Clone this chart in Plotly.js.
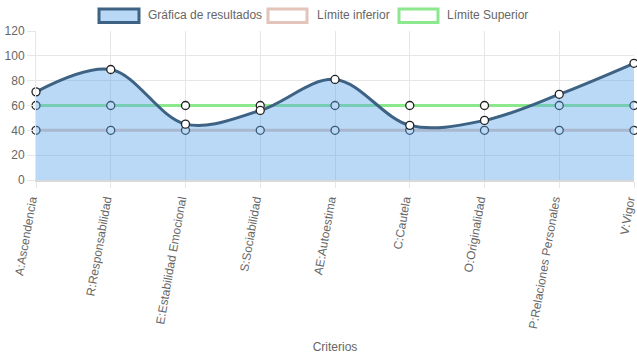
<!DOCTYPE html>
<html>
<head>
<meta charset="utf-8">
<script src="https://cdn.plot.ly/plotly-3.0.1.min.js"></script>
<style>html,body{margin:0;padding:0;background:#fff;}#chart{width:637px;height:359px;}</style>
</head>
<body>
<div id="chart"></div>
<script>
const categories = ["A:Ascendencia","R:Responsabilidad","E:Estabilidad Emocional","S:Sociabilidad","AE:Autoestima","C:Cautela","O:Originalidad","P:Relaciones Personales","V:Vigor"];
const resultados = [71, 89, 45, 56, 81, 44, 48, 69, 94];
const limiteInferior = [40, 40, 40, 40, 40, 40, 40, 40, 40];
const limiteSuperior = [60, 60, 60, 60, 60, 60, 60, 60, 60];
const seriesNames = ["Gráfica de resultados", "Límite inferior", "Límite Superior"];
const yTicks = [0, 20, 40, 60, 80, 100, 120];
const xTitle = "Criterios";

const mk = {size: 8, color: '#ffffff', line: {color: '#222222', width: 1.3}};
const traces = [
  {x: categories, y: limiteInferior, name: seriesNames[1], type: 'scatter', mode: 'lines+markers',
   line: {color: 'rgb(226,196,186)', width: 3}, marker: mk, cliponaxis: false, showlegend: false},
  {x: categories, y: limiteSuperior, name: seriesNames[2], type: 'scatter', mode: 'lines+markers',
   line: {color: 'rgb(140,232,140)', width: 3}, marker: mk, cliponaxis: false, showlegend: false},
  {x: categories, y: resultados, name: seriesNames[0], type: 'scatter', mode: 'lines+markers',
   fill: 'tozeroy', fillcolor: 'rgba(90,165,235,0.42)',
   line: {color: 'rgb(62,98,132)', width: 3, shape: 'spline', smoothing: 1},
   marker: mk, cliponaxis: false, showlegend: false}
];

const font = {family: '"Liberation Sans", Arial, Helvetica, sans-serif', size: 12, color: '#666666'};
const legendItems = [
  {x0: 99, x1: 139, tx: 146, text: seriesNames[0], line: 'rgb(62,98,132)', fill: 'rgb(184,216,246)'},
  {x0: 268, x1: 307, tx: 315, text: seriesNames[1], line: 'rgb(226,196,186)', fill: 'rgba(0,0,0,0)'},
  {x0: 399, x1: 438, tx: 445, text: seriesNames[2], line: 'rgb(140,232,140)', fill: 'rgba(0,0,0,0)'}
];
const W = 637, H = 359;
const PL = 36, PR = 634, PT = 31, PB = 180;
const px = v => (v - PL) / (PR - PL);
const py = v => (PB - v) / (PB - PT);
const shapes = legendItems.map(it => ({type: 'rect', xref: 'paper', yref: 'paper',
  x0: px(it.x0), x1: px(it.x1), y0: py(22.5), y1: py(9),
  line: {color: it.line, width: 3}, fillcolor: it.fill}));
const annotations = legendItems.map(it => ({xref: 'paper', yref: 'paper',
  x: px(it.tx), y: py(15.5), xanchor: 'left', yanchor: 'middle',
  text: it.text, showarrow: false, font: font}));

const layout = {
  width: W, height: H,
  margin: {l: PL, r: W - PR, t: PT, b: H - PB},
  paper_bgcolor: '#ffffff', plot_bgcolor: '#ffffff',
  font: font,
  showlegend: false,
  xaxis: {type: 'category', range: [0, categories.length - 1], tickangle: -80,
    showgrid: true, gridcolor: '#e6e6e6', gridwidth: 1,
    ticks: 'outside', ticklen: 6, tickcolor: '#e6e6e6',
    showline: true, linecolor: '#d9d9d9', linewidth: 2,
    tickfont: font, zeroline: false, ticklabelshift: -5,
    title: {text: xTitle, font: font, standoff: 14}},
  yaxis: {range: [0, 120], tickvals: yTicks, showgrid: true, gridcolor: '#e6e6e6', gridwidth: 1,
    ticks: 'outside', ticklen: 8, tickcolor: '#e6e6e6', zeroline: false,
    showline: true, linecolor: '#e6e6e6', tickfont: font},
  shapes: shapes,
  annotations: annotations
};
Plotly.newPlot('chart', traces, layout, {displayModeBar: false, staticPlot: true});
</script>
</body>
</html>
